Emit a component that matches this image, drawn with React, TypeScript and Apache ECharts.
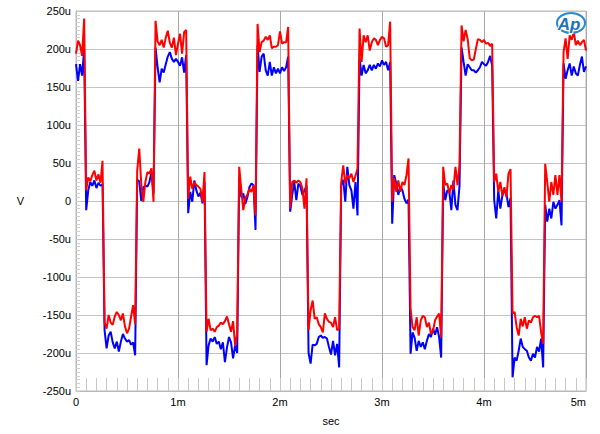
import React, { useEffect, useRef } from "react";
import * as echarts from "echarts";

// Sample step in ms
const STEP_MS = 0.02;

// Period 0 start (high level)
const redStart = [194, 211, 205, 191, 240];
const blueStart = [180, 158, 180, 165, 200];

// Middle level after the high level, per period
const redMidA = [
  [14, 31, 26, 34, 40, 27, 35, 24, 53],
  [3, 32, 16, 25, 21, 19, 16, -1, 38],
  [-10, 25, 27, 24, 27, 25, 16, -10, 30],
  [-1, 30, 12, 27, 12, 25, 21, 34, 56],
  [25, 36, 12, 25, 7, 18, 5, 36, 42],
];
const blueMidA = [
  [-12, 14, 25, 20, 27, 17, 24, 20, 22],
  [-16, 12, -1, 27, 14, 6, 11, -3, 25],
  [-14, 8, 25, 1, 23, 19, 8, 14, 20],
  [-30, 34, 23, 8, 19, 14, 3, -3, 2],
  [1, -23, 14, -10, 7, 14, 10, -8, 4],
];

// Low level, per period
const redLow = [
  [-160, -168, -150, -160, -163, -152, -146, -150, -157, -148, -165, -174, -168, -152, -137, -162],
  [-172, -155, -170, -168, -172, -166, -164, -160, -162, -158, -152, -162, -172, -158, -190, -175],
  [-170, -144, -131, -155, -153, -162, -166, -173, -148, -155, -159, -160, -166, -153, -170, -168],
  [-142, -166, -170, -153, -177, -157, -151, -153, -166, -160, -175, -171, -157, -152, -148, -179],
  [-148, -146, -166, -177, -155, -165, -153, -168, -157, -160, -153, -151, -153, -151, -173, -188],
];
const blueLow = [
  [-170, -194, -177, -172, -186, -194, -185, -198, -185, -175, -181, -185, -183, -189, -186, -203],
  [-216, -190, -181, -185, -179, -188, -185, -195, -186, -212, -193, -179, -186, -207, -190, -200],
  [-200, -214, -189, -190, -188, -179, -177, -180, -179, -181, -192, -202, -184, -203, -188, -219],
  [-201, -173, -180, -197, -184, -192, -186, -195, -184, -175, -179, -168, -176, -166, -179, -206],
  [-232, -206, -210, -197, -181, -192, -195, -197, -206, -210, -201, -206, -192, -198, -181, -219],
];

// Middle level after the low level, per period
const redMidB = [
  [40, 69, 22, -1, 25, 38, 36, 43, -1],
  [45, 16, -12, 4, 8, 16, 12, 21, -19],
  [25, 47, 23, 34, 30, 36, 25, 33, 43],
  [45, 21, 23, 10, 21, 15, 45, 21, 47],
  [49, 25, -1, 25, 8, 34, 8, 34, -1],
];
const blueMidB = [
  [28, 26, 0, 18, 20, 19, 25, 38, 10],
  [30, 5, 10, -4, 5, 18, 23, 21, -38],
  [21, 28, -1, 45, 21, 14, -10, 25, -19],
  [25, 1, 14, 12, -12, 27, -5, -12, 20],
  [-5, -27, -10, -23, -1, -10, -5, 1, -32],
];

// High level, per period (starting in the next period)
const redHigh = [
  [237, 210, 205, 212, 202, 215, 224, 208, 202, 215, 192, 207, 220, 194, 222, 225],
  [233, 196, 209, 211, 216, 212, 218, 201, 203, 203, 205, 223, 207, 209, 209, 229],
  [227, 183, 218, 209, 218, 198, 209, 214, 212, 205, 212, 216, 214, 203, 205, 236],
  [231, 210, 225, 213, 188, 185, 186, 200, 213, 212, 209, 212, 207, 208, 204, 207],
  [196, 214, 187, 218, 212, 223, 205, 211, 205, 209, 212, 198],
];
const blueHigh = [
  [202, 176, 156, 174, 169, 180, 190, 196, 187, 183, 187, 183, 178, 189, 169, 192],
  [205, 170, 190, 194, 172, 165, 183, 165, 176, 168, 174, 168, 176, 171, 176, 190],
  [188, 165, 179, 168, 172, 179, 172, 179, 174, 181, 177, 185, 179, 183, 172, 183],
  [202, 183, 165, 180, 176, 172, 172, 169, 172, 176, 183, 180, 178, 183, 191, 178],
  [181, 161, 172, 181, 165, 177, 168, 165, 179, 190, 170, 177],
];

const xTicks = [0, 1, 2, 3, 4, 5];
const yMin = -250;
const yMax = 250;

function buildSeries(start: number[], midA: number[][], low: number[][], midB: number[][], high: number[][]) {
  const seq: number[] = [...start];
  for (let k = 0; k < midA.length; k++) {
    seq.push(...midA[k], ...low[k], ...midB[k], ...high[k]);
  }
  return seq.map((v, i) => [Number((i * STEP_MS).toFixed(4)), v]);
}

const FONT = "Arial, 'Liberation Sans', sans-serif";

export default function App() {
  const ref = useRef<HTMLDivElement>(null);
  useEffect(() => {
    if (!ref.current) return;
    const chart = echarts.init(ref.current, null, { renderer: "svg" });
    const red = buildSeries(redStart, redMidA, redLow, redMidB, redHigh);
    const blue = buildSeries(blueStart, blueMidA, blueLow, blueMidB, blueHigh);
    chart.setOption({
      animation: false,
      backgroundColor: "#ffffff",
      grid: {
        left: 76,
        right: 14,
        top: 11,
        bottom: 43,
        show: true,
        borderColor: "#b8b8b8",
        borderWidth: 1,
        backgroundColor: "#ffffff",
      },
      xAxis: {
        type: "value",
        min: xTicks[0],
        max: xTicks[xTicks.length - 1],
        interval: 1,
        name: "sec",
        nameLocation: "middle",
        nameGap: 24,
        nameTextStyle: { fontSize: 11, color: "#000", fontFamily: FONT },
        axisLine: { show: true, onZero: false, lineStyle: { color: "#b8b8b8" } },
        axisTick: { show: true, inside: true, length: 13, lineStyle: { color: "#c8c8c8" } },
        minorTick: { show: true, splitNumber: 10, length: 13, lineStyle: { color: "#c8c8c8" } },
        splitLine: { show: true, lineStyle: { color: "#a8a8a8" } },
        axisLabel: {
          fontSize: 11,
          color: "#000",
          fontFamily: FONT,
          margin: 5,
          alignMaxLabel: "right",
          formatter: (v: number) => (v === 0 ? "0" : v + "m"),
        },
      },
      yAxis: {
        type: "value",
        min: yMin,
        max: yMax,
        interval: 50,
        name: "V",
        nameLocation: "middle",
        nameRotate: 0,
        nameGap: 52,
        nameTextStyle: { fontSize: 11, color: "#000", fontFamily: FONT },
        axisLine: { show: true, onZero: false, lineStyle: { color: "#b8b8b8" } },
        axisTick: { show: true, inside: true, length: 4, lineStyle: { color: "#c8c8c8" } },
        minorTick: { show: true, splitNumber: 10, length: 4, lineStyle: { color: "#d0d0d0" } },
        splitLine: { show: true, lineStyle: { color: "#c4c4c4" } },
        axisLabel: {
          fontSize: 11,
          color: "#000",
          fontFamily: FONT,
          margin: 5,
          formatter: (v: number) => (v === 0 ? "0" : v + "u"),
        },
      },
      series: [
        {
          type: "line",
          data: blue,
          showSymbol: false,
          lineStyle: { color: "#0000ff", width: 2 },
          itemStyle: { color: "#0000ff" },
          z: 2,
        },
        {
          type: "line",
          data: red,
          showSymbol: false,
          lineStyle: { color: "#ff0000", width: 2 },
          itemStyle: { color: "#ff0000" },
          z: 3,
        },
      ],
      graphic: [
        {
          type: "ellipse",
          shape: { cx: 571, cy: 23, rx: 14, ry: 10 },
          style: { fill: "rgba(255,255,255,0.6)", stroke: "#2a8ad0", lineWidth: 2 },
          z: 100,
        },
        {
          type: "text",
          x: 569,
          y: 24,
          style: {
            text: "Ap",
            fontSize: 17,
            fontWeight: "bold",
            fontStyle: "italic",
            fontFamily: FONT,
            fill: "#1f72b8",
            stroke: "#ffffff",
            lineWidth: 2,
            align: "center",
            verticalAlign: "middle",
          },
          z: 101,
        },
      ],
    });
    return () => chart.dispose();
  }, []);
  return (
    <div
      ref={ref}
      style={{ position: "fixed", left: 0, top: 0, width: 600, height: 434, background: "#fff" }}
    />
  );
}
